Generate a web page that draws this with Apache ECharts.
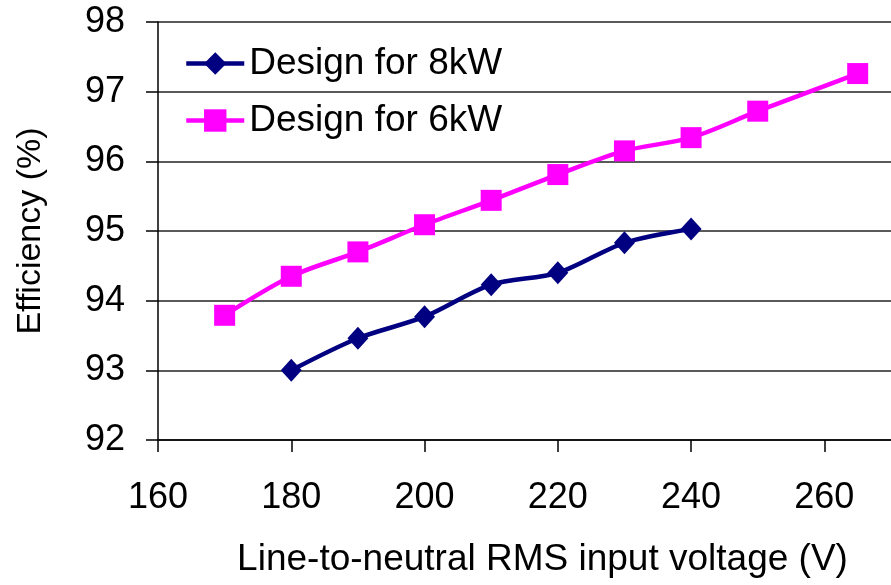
<!DOCTYPE html>
<html>
<head>
<meta charset="utf-8">
<script src="https://cdn.jsdelivr.net/npm/echarts@6/dist/echarts.min.js"></script>
<style>html,body{margin:0;padding:0;background:#fff;}#c{width:891px;height:585px;}</style>
</head>
<body>
<div id="c"></div>
<script>
const seriesNames = ['Design for 8kW', 'Design for 6kW'];
const voltage8kW = [180, 190, 200, 210, 220, 230, 240];
const eff8kW = [93.0, 93.46, 93.77, 94.23, 94.40, 94.83, 95.03];
const voltage6kW = [170, 180, 190, 200, 210, 220, 230, 240, 250, 265];
const eff6kW = [93.79, 94.35, 94.70, 95.09, 95.44, 95.81, 96.15, 96.34, 96.72, 97.26];
const xTicks = [160, 180, 200, 220, 240, 260];
const yTicks = [92, 93, 94, 95, 96, 97, 98];

const font = 'Liberation Sans, Arial, sans-serif';
const chart = echarts.init(document.getElementById('c'), null, {renderer: 'canvas'});
chart.setOption({
  animation: false,
  backgroundColor: '#fff',
  grid: {left: 158, top: 22, width: 744, height: 418, containLabel: false},
  legend: {
    orient: 'vertical', left: 179, top: 40, itemWidth: 58, itemHeight: 28, itemGap: 20,
    textStyle: {fontFamily: font, fontSize: 37, color: '#000', padding: [0, 0, 0, 0]},
    lineStyle: {width: 4.5},
    data: seriesNames
  },
  xAxis: {
    type: 'value', min: 160, max: 270, interval: 20,
    name: 'Line-to-neutral RMS input voltage (V)', nameLocation: 'middle', nameGap: 101,
    nameTextStyle: {fontFamily: font, fontSize: 37, color: '#000', padding: [0, 0, 0, 36]},
    axisLine: {show: true, lineStyle: {color: '#000', width: 1.5}},
    axisTick: {show: true, inside: false, length: 12, lineStyle: {color: '#000', width: 1.5}},
    axisLabel: {fontFamily: font, fontSize: 36, color: '#000', margin: 40, showMaxLabel: false,
      formatter: v => xTicks.includes(v) ? String(v) : ''},
    splitLine: {show: false}
  },
  yAxis: {
    type: 'value', min: 92, max: 98, interval: 1,
    name: 'Efficiency (%)', nameLocation: 'middle', nameGap: 110, nameRotate: 90,
    nameTextStyle: {fontFamily: font, fontSize: 34, color: '#000'},
    axisLine: {show: true, lineStyle: {color: '#000', width: 1.5}},
    axisTick: {show: true, inside: false, length: 12, lineStyle: {color: '#000', width: 1.5}},
    axisLabel: {fontFamily: font, fontSize: 36, color: '#000', margin: 33,
      formatter: v => yTicks.includes(v) ? String(v) : ''},
    splitLine: {show: true, lineStyle: {color: '#222', width: 1.5}}
  },
  series: [
    {
      name: seriesNames[0], type: 'line', smooth: 0.3,
      data: voltage8kW.map((v, i) => [v, eff8kW[i]]),
      symbol: 'diamond', symbolSize: [21, 23],
      lineStyle: {color: '#000080', width: 4.5},
      itemStyle: {color: '#000080'}
    },
    {
      name: seriesNames[1], type: 'line', smooth: 0.3,
      data: voltage6kW.map((v, i) => [v, eff6kW[i]]),
      symbol: 'rect', symbolSize: 21,
      lineStyle: {color: '#FF00FF', width: 4.5},
      itemStyle: {color: '#FF00FF'}
    }
  ]
});
</script>
</body>
</html>
